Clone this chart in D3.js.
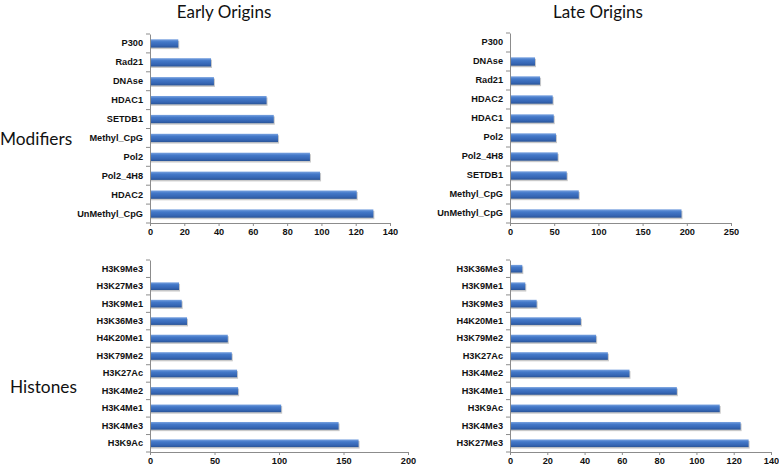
<!DOCTYPE html>
<html><head><meta charset="utf-8">
<script src="https://cdn.jsdelivr.net/npm/d3@7"></script>
<style>
body{margin:0;background:#fff;}
svg{font-family:Lato,"Open Sans",sans-serif;}
.tick text{font-size:9.2px;font-weight:bold;fill:#111;}
</style></head><body>
<svg id="c" width="779" height="467"></svg>
<script>
// Early Origins - Modifiers
const earlyModCats = ["P300","Rad21","DNAse","HDAC1","SETDB1","Methyl_CpG","Pol2","Pol2_4H8","HDAC2","UnMethyl_CpG"];
const earlyModVals = [16.5,35.6,37.3,68,72.2,74.7,93.3,99.2,120.6,130.3];
const earlyModTicks = [0,20,40,60,80,100,120,140];
// Late Origins - Modifiers
const lateModCats = ["P300","DNAse","Rad21","HDAC2","HDAC1","Pol2","Pol2_4H8","SETDB1","Methyl_CpG","UnMethyl_CpG"];
const lateModVals = [0,28.3,34,48.3,49.5,52,54,64.2,77.8,194];
const lateModTicks = [0,50,100,150,200,250];
// Early Origins - Histones
const earlyHisCats = ["H3K9Me3","H3K27Me3","H3K9Me1","H3K36Me3","H4K20Me1","H3K79Me2","H3K27Ac","H3K4Me2","H3K4Me1","H3K4Me3","H3K9Ac"];
const earlyHisVals = [0,22.5,24.6,28.7,60.3,63.4,67.5,68.3,101.7,146.2,161.7];
const earlyHisTicks = [0,50,100,150,200];
// Late Origins - Histones
const lateHisCats = ["H3K36Me3","H3K9Me1","H3K9Me3","H4K20Me1","H3K79Me2","H3K27Ac","H3K4Me2","H3K4Me1","H3K9Ac","H3K4Me3","H3K27Me3"];
const lateHisVals = [6.6,8.2,14.3,38,46.2,52.5,64.1,89.5,112.5,123.7,128];
const lateHisTicks = [0,20,40,60,80,100,120,140];

const colTitles = ["Early Origins","Late Origins"];
const rowTitles = ["Modifiers","Histones"];

const svg = d3.select("#c");
const defs = svg.append("defs");
const grad = defs.append("linearGradient").attr("id","bg").attr("x1",0).attr("x2",0).attr("y1",0).attr("y2",1);
grad.append("stop").attr("offset","0%").attr("stop-color","#7aa3e0");
grad.append("stop").attr("offset","30%").attr("stop-color","#4479c9");
grad.append("stop").attr("offset","75%").attr("stop-color","#3565b3");
grad.append("stop").attr("offset","100%").attr("stop-color","#2a5496");

const panels = [
  {cats:earlyModCats, vals:earlyModVals, ticks:earlyModTicks, x0:150, x1:390, y0:34, y1:223},
  {cats:lateModCats, vals:lateModVals, ticks:lateModTicks, x0:510, x1:731, y0:33, y1:223},
  {cats:earlyHisCats, vals:earlyHisVals, ticks:earlyHisTicks, x0:150, x1:408, y0:260, y1:452},
  {cats:lateHisCats, vals:lateHisVals, ticks:lateHisTicks, x0:510, x1:771, y0:260, y1:452}
];

panels.forEach(p => {
  const x = d3.scaleLinear().domain([0, d3.max(p.ticks)]).range([p.x0, p.x1]);
  const y = d3.scaleBand().domain(p.cats).range([p.y0, p.y1]).paddingInner(0.56).paddingOuter(0.28);
  const g = svg.append("g");
  g.selectAll("rect.sh").data(p.vals).join("rect")
    .attr("x", x(0)).attr("y", (d,i)=>y(p.cats[i])+1.5)
    .attr("width", d=>Math.max(0,x(d)-x(0))+1).attr("height", y.bandwidth())
    .attr("fill", d=> d>0 ? "#c9c9c9" : "none");
  g.selectAll("rect.bar").data(p.vals).join("rect")
    .attr("x", x(0)).attr("y", (d,i)=>y(p.cats[i]))
    .attr("width", d=>Math.max(0,x(d)-x(0))).attr("height", y.bandwidth())
    .attr("fill","url(#bg)");
  const xa = g.append("g").attr("transform",`translate(0,${p.y1})`)
    .call(d3.axisBottom(x).tickValues(p.ticks).tickSize(3).tickPadding(2));
  xa.selectAll("path,line").attr("stroke","#8c8c8c");
  xa.selectAll("text").attr("font-size","10px");
  const ya = g.append("g").attr("transform",`translate(${p.x0},0)`)
    .call(d3.axisLeft(y).tickSize(0).tickPadding(7));
  ya.selectAll("path").attr("stroke","#8c8c8c");
  const bounds = d3.range(p.cats.length+1).map(i => p.y0 + i*(p.y1-p.y0)/p.cats.length);
  g.selectAll("line.bt").data(bounds).join("line")
    .attr("x1", p.x0-4).attr("x2", p.x0).attr("y1", d=>d).attr("y2", d=>d)
    .attr("stroke","#8c8c8c");
});

svg.selectAll("text.ct").data(colTitles).join("text")
  .attr("x",(d,i)=> i===0 ? 224 : 598).attr("y",18)
  .attr("text-anchor","middle").attr("font-size","17px").attr("fill","#111")
  .text(d=>d);
svg.selectAll("text.rt").data(rowTitles).join("text")
  .attr("x",(d,i)=> i===0 ? 0 : 10).attr("y",(d,i)=> i===0 ? 145 : 393)
  .attr("font-size","17.3px").attr("fill","#111")
  .text(d=>d);
</script>
</body></html>
